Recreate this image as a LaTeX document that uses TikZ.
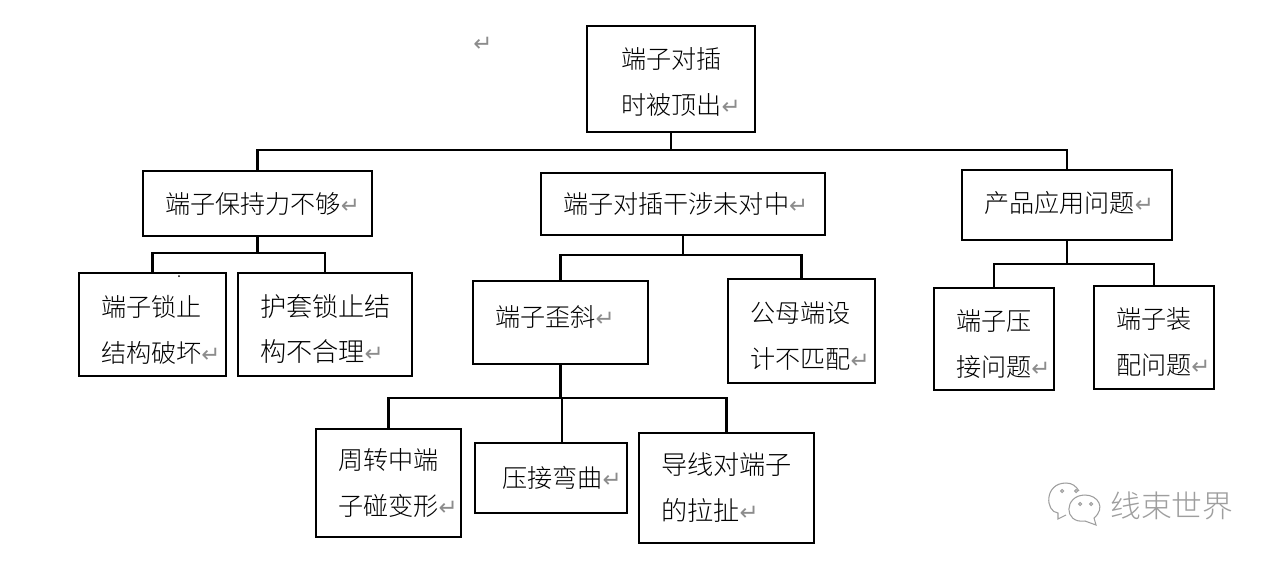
\documentclass[tikz,border=0pt]{standalone}
\usepackage{fontspec}
\setmainfont{Noto Sans CJK SC}[UprightFont=* Light]
\newfontfamily\retfont{DejaVu Sans}
\definecolor{retgray}{gray}{.55}
\definecolor{markgray}{gray}{.62}
\newcommand{\retmark}{{\retfont\color{retgray}\fontsize{13}{26}\selectfont ↵}}
\newcommand{\ret}{\rlap{\retmark}}
\newcommand{\pushdown}[1]{\rule{0pt}{\dimexpr 12.6pt+#1\relax}}
\newcommand{\pushup}[1]{\rule[-#1]{0pt}{#1}}
\tikzset{
  box/.style 2 args={draw, line width=1.5pt, align=left, inner sep=0pt,
    font=\fontsize{14.3}{26.2}\selectfont,
    minimum width=#1*0.02cm, minimum height=#2*0.02cm, text width=(#1-44)*0.02cm},
  conn/.style={line width=1.5pt}
}
\begin{document}
\begin{tikzpicture}[x=0.02cm,y=-0.02cm]
\useasboundingbox (0,0) rectangle (1273,562);

\node[box={168}{106}, text width=100*0.02cm] (top) at (671,79) {\pushdown{2.3pt}端子对插\\时被顶出\ret};
\node[inner sep=0pt] (stray) at (483,44) {\retmark};

\node[box={229}{65}] (holdforce) at (257.5,203.5) {端子保持力不够\ret};
\node[box={284}{62}] (matearea) at (683,204) {端子对插干涉未对中\ret};
\node[box={210}{70}] (usage) at (1067,205) {产品应用问题\ret\pushup{3.5pt}};

\node[box={147}{103}] (lockbad) at (152.5,324.5) {\pushdown{5.7pt}端子锁止\\结构破坏\ret};
\node[box={174}{103}, font=\fontsize{14.9}{25.6}\selectfont] (sleeve) at (325,324.5) {\pushdown{5.1pt}护套锁止结\\构不合理\ret};
\node[box={175}{83}] (tilt) at (560.5,322.5) {端子歪斜\ret\pushup{6.9pt}};
\node[box={147}{104}] (mismatch) at (801.5,331) {\pushdown{4.6pt}公母端设\\计不匹配\ret};
\node[box={120}{102}] (crimp) at (994,339) {\pushdown{4.6pt}端子压\\接问题\ret};
\node[box={120}{103}] (assemble) at (1154,337.5) {\pushdown{4.6pt}端子装\\配问题\ret};

\node[box={145}{108}] (transit) at (388.5,483) {周转中端\\子碰变形\ret};
\node[box={152}{70}, text width=98*0.02cm] (bend) at (551,478) {压接弯曲\ret};
\node[box={175}{110}, font=\fontsize{14.9}{26.2}\selectfont] (pull) at (726.5,488) {导线对端子\\的拉扯\ret};

\coordinate (topbus) at (671,150);
\coordinate (holdbus) at (257.5,253);
\coordinate (matebus) at (683,255);
\coordinate (usebus) at (1067,264);
\coordinate (tiltbus) at (560.5,398);
\coordinate (bendbus) at (562,398);

\draw[conn] (top.south) -- (topbus);
\draw[conn] (topbus) -| (holdforce.north);
\draw[conn] (topbus) -| (usage.north);

\draw[conn] (holdforce.south) -- (holdbus);
\draw[conn] (holdbus) -| (lockbad.north);
\draw[conn] (holdbus) -| (sleeve.north);

\draw[conn] (matearea.south) -- (matebus);
\draw[conn] (matebus) -| (tilt.north);
\draw[conn] (matebus) -| (mismatch.north);

\draw[conn] (usage.south) -- (usebus);
\draw[conn] (usebus) -| (crimp.north);
\draw[conn] (usebus) -| (assemble.north);

\draw[conn] (tilt.south) -- (tiltbus);
\draw[conn] (tiltbus) -| (transit.north);
\draw[conn] (tiltbus) -| (pull.north);
\draw[conn] (bendbus) -- (bendbus |- bend.north);

\fill (179,276) circle (1);

\draw[markgray, line width=.6pt] (1066,483) .. controls (1044,483) and (1045,512) .. (1058,513) -- (1058,519) -- (1066,515);
\draw[markgray, line width=.6pt] (1085,495) .. controls (1064,495) and (1063,524) .. (1085,521) -- (1096,525) -- (1094,518) .. controls (1106,508) and (1098,495) .. (1085,495);
\draw[markgray, line width=.6pt] (1062,491) circle (1.5) (1076,491) circle (1.5) (1080,504) circle (1.5) (1091,504) circle (1.5);
\draw[markgray, line width=.6pt] (1066,483) .. controls (1072,483) and (1076,486) .. (1079,491);
\node[text=markgray, font=\fontsize{17.5}{20}\selectfont, inner sep=0pt, anchor=west] (brand) at (1110,506) {线束世界};
\end{tikzpicture}
\end{document}
